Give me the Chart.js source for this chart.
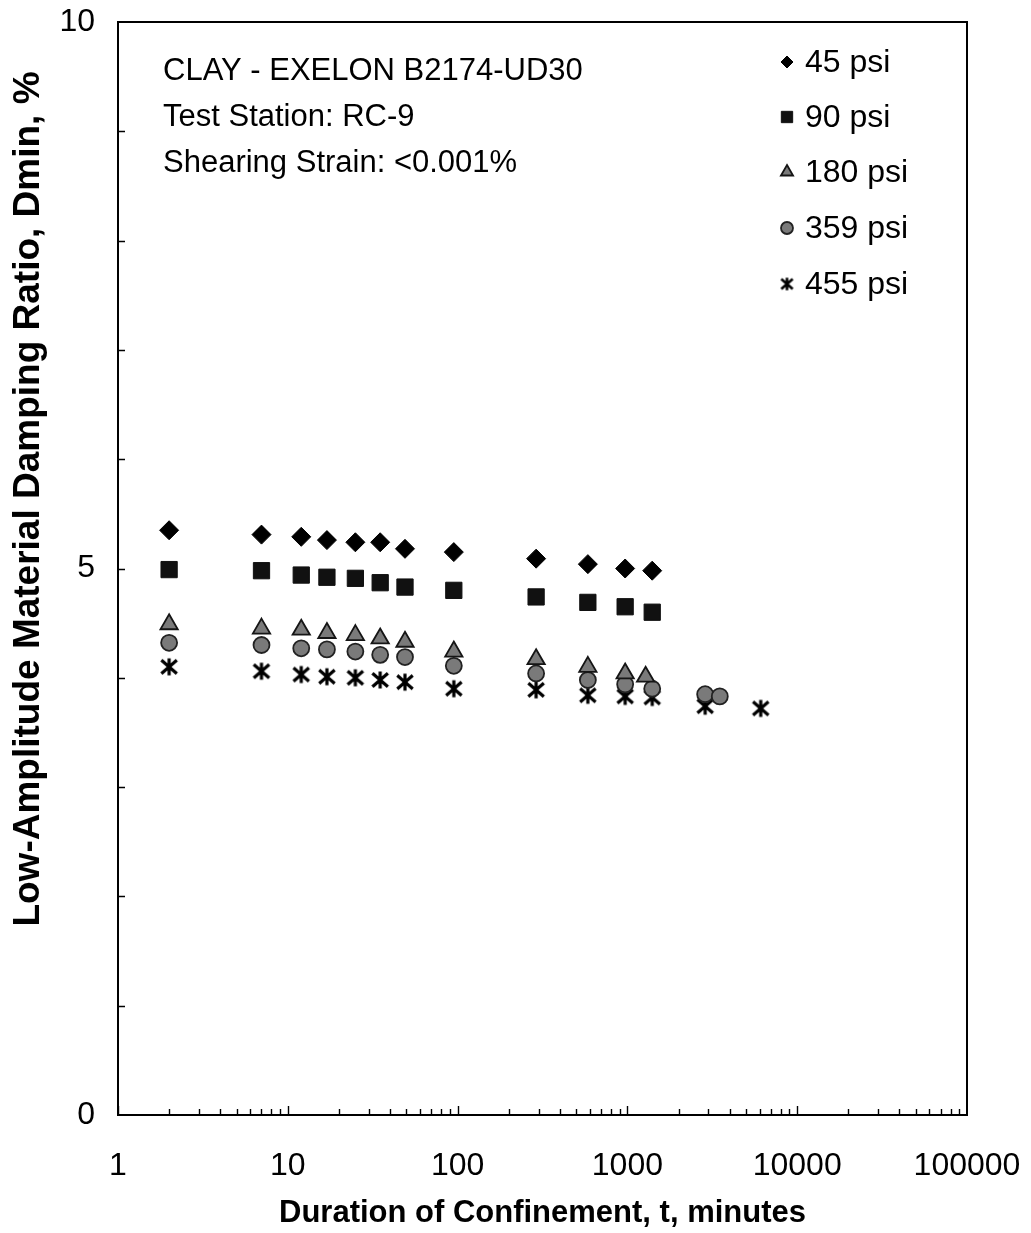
<!DOCTYPE html>
<html>
<head>
<meta charset="utf-8">
<script src="https://cdn.jsdelivr.net/npm/chart.js@4/dist/chart.umd.min.js"></script>
<style>
  html, body { margin: 0; padding: 0; background: #fff; }
  #wrap { width: 1031px; height: 1233px; }
</style>
</head>
<body>
<div id="wrap"><canvas id="c" width="1031" height="1233"></canvas></div>
<script>
// Duration of confinement (minutes) and low-amplitude damping ratio Dmin (%)
const durations = [2, 7, 12, 17, 25, 35, 49, 95, 290, 585, 970, 1400];
const durations180 = [2, 7, 12, 17, 25, 35, 49, 95, 290, 585, 970, 1280];
const durations359 = [2, 7, 12, 17, 25, 35, 49, 95, 290, 585, 970, 1400, 2870, 3500];
const durations455 = [2, 7, 12, 17, 25, 35, 49, 95, 290, 585, 970, 1400, 2870, 6100];

const dmin45  = [5.35, 5.31, 5.29, 5.26, 5.24, 5.24, 5.18, 5.15, 5.09, 5.04, 5.00, 4.98];
const dmin90  = [4.99, 4.98, 4.94, 4.92, 4.91, 4.87, 4.83, 4.80, 4.74, 4.69, 4.65, 4.60];
const dmin180 = [4.49, 4.45, 4.44, 4.41, 4.39, 4.36, 4.33, 4.24, 4.17, 4.10, 4.04, 4.01];
const dmin359 = [4.32, 4.30, 4.27, 4.26, 4.24, 4.21, 4.19, 4.11, 4.04, 3.98, 3.94, 3.90, 3.85, 3.83];
const dmin455 = [4.10, 4.06, 4.03, 4.01, 4.00, 3.98, 3.96, 3.90, 3.89, 3.84, 3.83, 3.82, 3.74, 3.72];

const seriesLabels = ['45 psi', '90 psi', '180 psi', '359 psi', '455 psi'];
const xTickValues = [1, 10, 100, 1000, 10000, 100000];
const xTickLabels = ['1', '10', '100', '1000', '10000', '100000'];
const yTickValues = [0, 5, 10];
const yTickLabels = ['0', '5', '10'];
const noteLines = ['CLAY - EXELON B2174-UD30', 'Test Station: RC-9', 'Shearing Strain: <0.001%'];
const xTitle = 'Duration of Confinement, t, minutes';
const yTitle = 'Low-Amplitude Material Damping Ratio, Dmin, %';

const FONT = '"Liberation Sans", Arial, Helvetica, sans-serif';

// six-armed asterisk marker (vertical stroke plus an X)
function asteriskMarker(size, lw) {
  const cv = document.createElement('canvas');
  cv.width = size; cv.height = size;
  const g = cv.getContext('2d');
  const c = size / 2, r = size / 2 - lw / 2;
  g.strokeStyle = '#000';
  g.lineWidth = lw;
  g.beginPath();
  g.moveTo(c, c - r); g.lineTo(c, c + r);
  g.moveTo(c - r * 0.92, c - r * 0.8); g.lineTo(c + r * 0.92, c + r * 0.8);
  g.moveTo(c + r * 0.92, c - r * 0.8); g.lineTo(c - r * 0.92, c + r * 0.8);
  g.stroke();
  return cv;
}
const asteriskBig = asteriskMarker(20, 3.2);
const asteriskSmall = asteriskMarker(15, 2.6);

function pts(xs, ys) { return xs.map((t, i) => ({ x: t, y: ys[i] })); }

const styles = [
  { pointStyle: 'rectRot', radius: 9.5, bg: '#000', bc: '#000', bw: 1, legendRadius: 6 },
  { pointStyle: 'rect', radius: 11.5, bg: '#111', bc: '#111', bw: 1, legendRadius: 8 },
  { pointStyle: 'triangle', radius: 10, bg: '#7a7a7a', bc: '#151515', bw: 1.8, legendRadius: 7 },
  { pointStyle: 'circle', radius: 8, bg: '#7a7a7a', bc: '#222', bw: 1.8, legendRadius: 6 },
  { pointStyle: asteriskBig, radius: 10, bg: '#000', bc: '#000', bw: 1, legendStyle: asteriskSmall, legendRadius: 7.5 }
];

const seriesData = [
  pts(durations, dmin45),
  pts(durations, dmin90),
  pts(durations180, dmin180),
  pts(durations359, dmin359),
  pts(durations455, dmin455)
];

const datasets = seriesData.map((d, i) => ({
  label: seriesLabels[i],
  data: d,
  showLine: false,
  pointStyle: styles[i].pointStyle,
  pointRadius: styles[i].radius,
  pointHoverRadius: styles[i].radius,
  pointBackgroundColor: styles[i].bg,
  pointBorderColor: styles[i].bc,
  pointBorderWidth: styles[i].bw
}));

function noScalePadding(s) {
  s.paddingLeft = 0; s.paddingRight = 0; s.paddingTop = 0; s.paddingBottom = 0;
}

// frame, inward tick marks, notes, y-axis title and the in-plot legend
const overlay = {
  id: 'overlay',
  afterDraw(chart) {
    const { ctx, chartArea: a, scales: { x, y } } = chart;
    ctx.save();
    ctx.strokeStyle = '#000';
    ctx.lineWidth = 2;
    ctx.strokeRect(a.left, a.top, a.right - a.left, a.bottom - a.top);

    ctx.lineWidth = 1.4;
    ctx.beginPath();
    for (let d = 0; d < 5; d++) {
      for (let k = 1; k <= 9; k++) {
        const v = k * Math.pow(10, d);
        const px = Math.round(x.getPixelForValue(v)) + 0.5;
        const len = k === 1 ? 9 : 6;
        ctx.moveTo(px, a.bottom);
        ctx.lineTo(px, a.bottom - len);
      }
    }
    for (let v = 1; v < 10; v++) {
      const py = Math.round(y.getPixelForValue(v)) + 0.5;
      ctx.moveTo(a.left, py);
      ctx.lineTo(a.left + 7, py);
    }
    ctx.stroke();

    // y-axis title, set slightly above the plot's mid-height
    ctx.save();
    ctx.translate(29, 499);
    ctx.rotate(-Math.PI / 2);
    ctx.fillStyle = '#000';
    ctx.font = 'bold 37px ' + FONT;
    ctx.textAlign = 'center';
    ctx.textBaseline = 'middle';
    ctx.fillText(yTitle, 0, 0);
    ctx.restore();

    ctx.fillStyle = '#000';
    ctx.font = '31px ' + FONT;
    ctx.textAlign = 'left';
    ctx.textBaseline = 'middle';
    const noteY = [71, 117, 163];
    noteLines.forEach((t, i) => ctx.fillText(t, 163, noteY[i]));

    const rowY = [62, 117, 172, 228, 284];
    ctx.font = '32px ' + FONT;
    styles.forEach((s, i) => {
      const opts = {
        pointStyle: s.legendStyle || s.pointStyle,
        radius: s.legendRadius,
        borderWidth: s.bw
      };
      ctx.fillStyle = s.bg;
      ctx.strokeStyle = s.bc;
      ctx.lineWidth = s.bw;
      Chart.helpers.drawPoint(ctx, opts, 787, rowY[i]);
      ctx.fillStyle = '#000';
      ctx.fillText(seriesLabels[i], 805, rowY[i] + 1);
    });
    ctx.restore();
  }
};

new Chart(document.getElementById('c'), {
  type: 'scatter',
  data: { datasets },
  plugins: [overlay],
  options: {
    responsive: false,
    animation: false,
    layout: { padding: { top: 22, right: 64, left: 0, bottom: 0 } },
    plugins: { legend: { display: false }, tooltip: { enabled: false } },
    scales: {
      x: {
        type: 'logarithmic',
        min: 1,
        max: 100000,
        afterBuildTicks: s => { s.ticks = xTickValues.map(v => ({ value: v })); },
        afterFit: s => { s.height = 118; noScalePadding(s); },
        grid: { display: false, drawTicks: false },
        border: { display: false },
        ticks: {
          autoSkip: false, maxRotation: 0, padding: 32, color: '#000',
          font: { family: FONT, size: 32 },
          callback: (v) => xTickLabels[xTickValues.indexOf(v)] ?? ''
        },
        title: {
          display: true, text: xTitle, color: '#000',
          font: { family: FONT, size: 31, weight: 'bold' },
          padding: { top: 0, bottom: 1 }
        }
      },
      y: {
        min: 0,
        max: 10,
        afterBuildTicks: s => { s.ticks = yTickValues.map(v => ({ value: v })); },
        afterFit: s => { s.width = 118; noScalePadding(s); },
        grid: { display: false, drawTicks: false },
        border: { display: false },
        ticks: {
          padding: 23, color: '#000',
          font: { family: FONT, size: 32 },
          callback: (v) => yTickLabels[yTickValues.indexOf(v)] ?? ''
        },
        title: { display: false }
      }
    }
  }
});
</script>
</body>
</html>
